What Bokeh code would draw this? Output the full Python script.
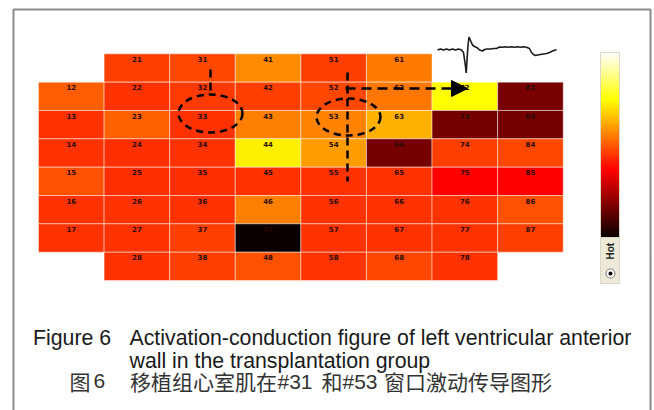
import numpy as np
from bokeh.plotting import figure
from bokeh.models import Range1d, ColumnDataSource, Arrow, NormalHead, LinearColorMapper
from bokeh.core.properties import value
from bokeh.embed import file_html
from bokeh.resources import INLINE

# ---------------- data ----------------
# electrode window ids: first digit = column, second digit = row
cell_ids = ["21", "31", "41", "51", "61",
            "12", "22", "32", "42", "52", "62", "72", "82",
            "13", "23", "33", "43", "53", "63", "73", "83",
            "14", "24", "34", "44", "54", "64", "74", "84",
            "15", "25", "35", "45", "55", "65", "75", "85",
            "16", "26", "36", "46", "56", "66", "76", "86",
            "17", "27", "37", "47", "57", "67", "77", "87",
            "28", "38", "48", "58", "68", "78"]
# normalised activation level (position on the "Hot" colour scale)
activation = [0.460, 0.470, 0.574, 0.460, 0.548,
              0.506, 0.441, 0.453, 0.460, 0.472, 0.540, 0.746, 0.165,
              0.441, 0.508, 0.441, 0.556, 0.559, 0.628, 0.163, 0.163,
              0.441, 0.437, 0.441, 0.720, 0.598, 0.163, 0.460, 0.472,
              0.485, 0.437, 0.437, 0.441, 0.441, 0.441, 0.365, 0.365,
              0.441, 0.441, 0.441, 0.556, 0.441, 0.441, 0.441, 0.485,
              0.441, 0.441, 0.460, 0.000, 0.441, 0.441, 0.441, 0.460,
              0.441, 0.460, 0.485, 0.443, 0.472, 0.441]

# example electrogram trace (ms, mV)
ecg_ms = [0, 3, 6, 9, 12, 15, 18, 21, 24, 26, 28, 28.7, 29.5, 30.5, 31.5, 33, 35, 37,
          40, 42, 45, 47, 50, 53, 56, 59, 62, 65, 68, 71, 74, 77, 80, 83, 86, 89,
          92, 94, 96, 98, 100, 103, 106, 109, 112, 115, 118, 119]
ecg_mv = [-0.025, 0.025, -0.025, 0.025, -0.025, 0.025, -0.025, 0.025, -0.025, -0.15,
          -0.85, -1.175, -0.55, 0.2, 0.625, 0.45, 0.225, 0.15, 0.075, -0.025, -0.075,
          0.0, 0.025, 0.025, 0.05, 0.05, 0.125, 0.11, 0.135, 0.11, 0.135, 0.11, 0.135,
          0.11, 0.135, 0.11, 0.05, -0.15, -0.25, -0.3, -0.275, -0.25, -0.225, -0.2,
          -0.15, -0.075, -0.025, 0.0]

caption_en_1 = "Figure 6"
caption_en_2 = "Activation-conduction figure of left ventricular anterior"
caption_en_3 = "wall in the transplantation group"
caption_cn = ["图", "6", "移植组心室肌在", "#31", "和", "#53", "窗口激动传导图形"]
scale_name = "Hot"

# ---------------- layout constants (page pixels) ----------------
W, H = 654, 410
GRID_LEFT, GRID_TOP = 38.0, 53.3
CW, RH = 65.59, 28.34

x_start = 0.5 - GRID_LEFT / CW
y_top = 0.5 - GRID_TOP / RH

# hot colormap
def hot(t):
    r = np.interp(t, [0, 0.365079, 1], [0.0416, 1, 1])
    g = np.interp(t, [0, 0.365079, 0.746032, 1], [0, 0, 1, 1])
    b = np.interp(t, [0, 0.746032, 1], [0, 0, 1])
    return "#%02x%02x%02x" % (int(round(r * 255)), int(round(g * 255)), int(round(b * 255)))

HOT = [hot(t) for t in np.linspace(0, 1, 256)]
mapper = LinearColorMapper(palette=HOT, low=0, high=1)

p = figure(width=W, height=H, output_backend="svg", toolbar_location=None,
           x_range=Range1d(x_start, x_start + W / CW),
           y_range=Range1d(y_top + H / RH, y_top),
           x_axis_location=None, y_axis_location=None, min_border=0)
p.grid.visible = False
p.outline_line_color = None
p.background_fill_color = "white"
p.border_fill_color = "white"

ECG_X0, ECG_Y0, ECG_PX_MS, ECG_PX_MV = 437.0, 49.0, 1.0, 20.0
CB_Y0, CB_Y1 = 237.0, 52.0
p.extra_x_ranges = {"px": Range1d(0, W),
                    "ecg": Range1d((0 - ECG_X0) / ECG_PX_MS, (W - ECG_X0) / ECG_PX_MS)}
p.extra_y_ranges = {"px": Range1d(H, 0),
                    "ecg": Range1d((ECG_Y0 - H) / ECG_PX_MV, (ECG_Y0 - 0) / ECG_PX_MV),
                    "cb": Range1d(-(H - CB_Y0) / (CB_Y0 - CB_Y1), 1 + (CB_Y1 - 0) / (CB_Y0 - CB_Y1))}

# ---------------- frame ----------------
p.multi_line(xs=[[13, 13, 650, 650]], ys=[[412, 9, 9, 412]], line_color="#8a8a8a",
             line_width=2, x_range_name="px", y_range_name="px")

# ---------------- heat map ----------------
src = ColumnDataSource(dict(
    id=cell_ids,
    col=[int(c[0]) for c in cell_ids],
    row=[int(c[1]) for c in cell_ids],
    v=activation,
))
p.rect(x="col", y="row", width=1, height=1, source=src,
       fill_color={"field": "v", "transform": mapper},
       line_color="white", line_alpha=0.45, line_width=1)
p.text(x="col", y="row", text="id", source=src, y_offset=-9,
       text_align="center", text_baseline="middle",
       text_font=value("DejaVu Sans"), text_font_style="bold",
       text_font_size="7px", text_color="#2a0c00")

# ---------------- electrogram ----------------
p.line(x=ecg_ms, y=ecg_mv, line_color="#1a1a1a", line_width=1.6,
       x_range_name="ecg", y_range_name="ecg")

# ---------------- dashed annotations ----------------
p.line(x=[210, 210], y=[69, 93], line_color="black", line_width=2.5, line_dash="8 5",
       x_range_name="px", y_range_name="px")
p.line(x=[347, 347], y=[72, 181], line_color="black", line_width=2.5, line_dash="8 5",
       x_range_name="px", y_range_name="px")
p.ellipse(x=[210, 348], y=[113, 116.5], width=[64, 64], height=[38, 37],
          fill_color=None, line_color="black", line_width=2.5, line_dash="7 5",
          x_range_name="px", y_range_name="px")
p.add_layout(Arrow(x_start=345, y_start=88, x_end=467, y_end=88,
                   line_color="black", line_width=2.5, line_dash="10 6",
                   end=NormalHead(size=16, fill_color="black", line_color="black"),
                   x_range_name="px", y_range_name="px"))

# ---------------- colour scale ----------------
lv = np.linspace(0, 1, 257)
p.quad(left=600, right=619, bottom=lv[:-1], top=lv[1:] + 0.006, fill_color=HOT,
       line_color=None, x_range_name="px", y_range_name="cb")
p.quad(left=[600], right=[619], bottom=[237], top=[52], fill_color=None,
       line_color="#dcd8c6", line_width=1, x_range_name="px", y_range_name="px")
p.quad(left=[600], right=[619], bottom=[283], top=[237], fill_color="#ece9d8",
       line_color="#dcd8c6", line_width=1, x_range_name="px", y_range_name="px")
p.text(x=[610], y=[259], text=[scale_name], angle=np.pi / 2, text_align="left",
       text_baseline="middle", text_font=value("Liberation Sans"), text_font_style="bold",
       text_font_size="10px", text_color="#222222", x_range_name="px", y_range_name="px")
p.scatter(x=[610], y=[273], size=9, marker="circle", fill_color="white",
          line_color="#8a8a8a", line_width=1.2, x_range_name="px", y_range_name="px")
p.scatter(x=[610], y=[273], size=4, marker="circle", fill_color="black",
          line_color=None, x_range_name="px", y_range_name="px")

# ---------------- caption ----------------
en_style = dict(text_font=value("Liberation Sans"), text_font_size="21.3px",
                text_color="#1a1a1a", text_baseline="alphabetic", text_align="left",
                x_range_name="px", y_range_name="px")
p.text(x=[32.5, 129, 129], y=[337.3, 337.3, 360.7],
       text=[caption_en_1, caption_en_2, caption_en_3], **en_style)

cn_x = [69, 93, 129.5, 277, 321, 342, 383.5]
cn_is_cjk = [True, False, True, False, True, False, True]
for txt, xx, cjk in zip(caption_cn, cn_x, cn_is_cjk):
    p.text(x=[xx], y=[380.7], text=[txt],
           text_font=value("Noto Sans CJK SC" if cjk else "Liberation Sans"),
           text_font_size="21px", text_color="#333333", text_baseline="alphabetic",
           text_align="left", x_range_name="px", y_range_name="px")

open("out.html", "w").write(file_html(p, INLINE))
